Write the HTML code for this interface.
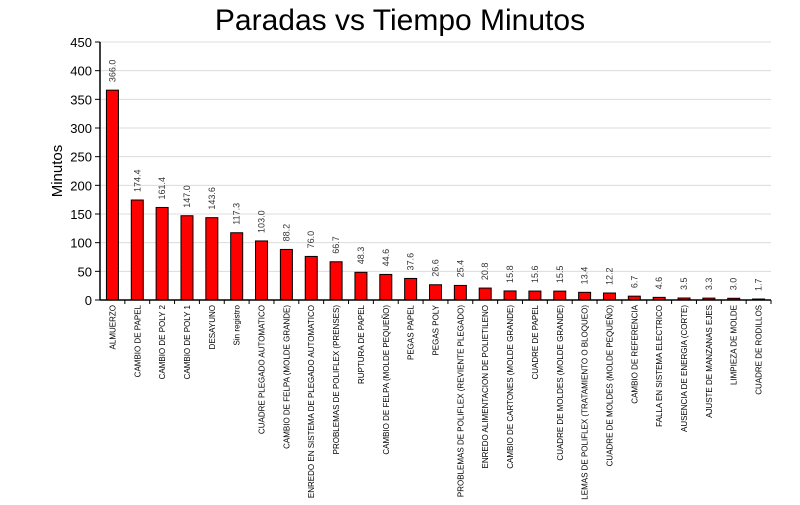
<!DOCTYPE html>
<html><head><meta charset="utf-8"><style>
body{margin:0;background:#fff}
svg text{font-family:"Liberation Sans",Arial,sans-serif}
</style></head><body>
<svg id="chart" width="800" height="500" xmlns="http://www.w3.org/2000/svg">
<text x="400" y="30" font-size="30" text-anchor="middle">Paradas vs Tiempo Minutos</text>
<text transform="translate(62,171) rotate(-90)" font-size="15" text-anchor="middle">Minutos</text>
<g id="grid"></g><g id="bars"></g><g id="axes"></g>
</svg>
<script>
const categories=["ALMUERZO","CAMBIO DE PAPEL","CAMBIO DE POLY 2","CAMBIO DE POLY 1","DESAYUNO","Sin registro","CUADRE PLEGADO AUTOMATICO","CAMBIO DE FELPA (MOLDE GRANDE)","ENREDO EN SISTEMA DE PLEGADO AUTOMATICO","PROBLEMAS DE POLIFLEX (PRENSES)","RUPTURA DE PAPEL","CAMBIO DE FELPA (MOLDE PEQUEÑO)","PEGAS PAPEL","PEGAS POLY","PROBLEMAS DE POLIFLEX (REVIENTE PLEGADO)","ENREDO ALIMENTACION DE POLIETILENO","CAMBIO DE CARTONES (MOLDE GRANDE)","CUADRE DE PAPEL","CUADRE DE MOLDES (MOLDE GRANDE)","PROBLEMAS DE POLIFLEX (TRATAMIENTO O BLOQUEO)","CUADRE DE MOLDES (MOLDE PEQUEÑO)","CAMBIO DE REFERENCIA","FALLA EN SISTEMA ELECTRICO","AUSENCIA DE ENERGIA (CORTE)","AJUSTE DE MANZANAS EJES","LIMPIEZA DE MOLDE","CUADRE DE RODILLOS"];
const values=[366.0,174.4,161.4,147.0,143.6,117.3,103.0,88.2,76.0,66.7,48.3,44.6,37.6,26.6,25.4,20.8,15.8,15.6,15.5,13.4,12.2,6.7,4.6,3.5,3.3,3.0,1.7];
const yTicks=[0,50,100,150,200,250,300,350,400,450];
</script>
<script>
const NS="http://www.w3.org/2000/svg";
const L=100,R=771,T=42,B=300,yMax=450;
const n=categories.length, bw=(R-L)/n;
const y=v=>B-(v/yMax)*(B-T);
const x=i=>L+bw*(i+0.5);
function mk(t,a,p){const e=document.createElementNS(NS,t);for(const k in a)e.setAttribute(k,a[k]);p.appendChild(e);return e;}
const grid=document.getElementById('grid'),bars=document.getElementById('bars'),axes=document.getElementById('axes');
yTicks.forEach(t=>{
  if(t>0){const g=mk('line',{x1:L,x2:R,y1:y(t),y2:y(t),stroke:'#dcdcdc','stroke-width':1},grid);
  
  }
  const tk=mk('line',{x1:L-5,x2:L,y1:y(t),y2:y(t),stroke:'#000'},axes);
  
  
  const tl=mk('text',{x:L-8,y:y(t)+5,'font-size':13,'text-anchor':'end'},axes);tl.textContent=t;
  
  
});
values.forEach((v,i)=>{
  const cx=x(i);
  const r=mk('rect',{x:cx-6,y:y(v),width:12,height:B-y(v),fill:'#ff0000',stroke:'#000','stroke-width':1},bars);
  
  
  const vl=mk('text',{transform:`translate(${cx+3},${y(v)-8}) rotate(-90)`,'font-size':9,fill:'#333'},bars);vl.textContent=v.toFixed(1);
  
  
  const cl=mk('text',{transform:`translate(${cx+3},305) rotate(-90)`,'font-size':8,'text-anchor':'end'},axes);cl.textContent=categories[i];
  
  
  if(i<n){const tk=mk('line',{x1:L+bw*(i+1),x2:L+bw*(i+1),y1:B,y2:B+4,stroke:'#000'},axes);
  
  }
});
const ya=mk('line',{x1:L,x2:L,y1:T,y2:B,stroke:'#000','stroke-width':1.5},axes);


const xa=mk('line',{x1:L,x2:R,y1:B,y2:B,stroke:'#000','stroke-width':1.5},axes);


</script>
</body></html>
